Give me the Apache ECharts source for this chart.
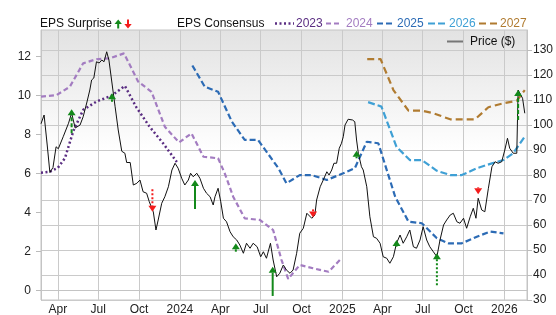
<!DOCTYPE html>
<html>
<head>
<meta charset="utf-8">
<script src="https://cdn.jsdelivr.net/npm/echarts@6/dist/echarts.min.js"></script>
<style>html,body{margin:0;padding:0;background:#fff}#c{width:556px;height:315px}</style>
</head>
<body>
<div id="c"></div>
<script>
// ---------- DATA ----------
var xTickDates = ['2023-04-01','2023-07-01','2023-10-01','2024-01-01','2024-04-01','2024-07-01','2024-10-01','2025-01-01','2025-04-01','2025-07-01','2025-10-01','2026-01-01'];
var xTickLabels = ['Apr','Jul','Oct','2024','Apr','Jul','Oct','2025','Apr','Jul','Oct','2026'];
var epsTicks = [0,2,4,6,8,10,12];
var priceTicks = [30,40,50,60,70,80,90,100,110,120,130];

var priceDates = ['2023-02-22','2023-03-01','2023-03-08','2023-03-14','2023-03-21','2023-03-28','2023-04-02','2023-04-13','2023-04-25','2023-05-02','2023-05-10','2023-05-21','2023-05-28','2023-06-05','2023-06-12','2023-06-16','2023-06-21','2023-06-27','2023-07-03','2023-07-09','2023-07-14','2023-07-20','2023-07-25','2023-07-31','2023-08-08','2023-08-15','2023-08-23','2023-08-30','2023-09-03','2023-09-11','2023-09-18','2023-09-26','2023-10-03','2023-10-10','2023-10-18','2023-10-24','2023-11-02','2023-11-08','2023-11-13','2023-11-21','2023-11-28','2023-12-06','2023-12-14','2023-12-21','2023-12-28','2024-01-05','2024-01-12','2024-01-20','2024-01-25','2024-01-31','2024-02-08','2024-02-15','2024-02-23','2024-03-01','2024-03-09','2024-03-16','2024-03-20','2024-03-27','2024-04-02','2024-04-08','2024-04-15','2024-04-23','2024-04-30','2024-05-08','2024-05-15','2024-05-23','2024-05-30','2024-06-07','2024-06-14','2024-06-23','2024-07-01','2024-07-07','2024-07-14','2024-07-23','2024-07-29','2024-08-06','2024-08-13','2024-08-21','2024-08-28','2024-09-05','2024-09-12','2024-09-20','2024-09-27','2024-10-05','2024-10-13','2024-10-16','2024-10-24','2024-10-31','2024-11-04','2024-11-12','2024-11-19','2024-11-27','2024-12-02','2024-12-08','2024-12-13','2024-12-19','2024-12-25','2024-12-30','2025-01-03','2025-01-07','2025-01-14','2025-01-24','2025-01-29','2025-02-02','2025-02-06','2025-02-13','2025-02-17','2025-02-25','2025-03-04','2025-03-12','2025-03-19','2025-03-27','2025-04-03','2025-04-11','2025-04-18','2025-04-26','2025-05-03','2025-05-11','2025-05-18','2025-05-26','2025-06-02','2025-06-10','2025-06-17','2025-06-25','2025-07-02','2025-07-10','2025-07-17','2025-07-25','2025-08-02','2025-08-09','2025-08-17','2025-08-24','2025-09-01','2025-09-08','2025-09-16','2025-09-23','2025-10-01','2025-10-08','2025-10-16','2025-10-23','2025-10-29','2025-11-03','2025-11-11','2025-11-18','2025-11-26','2025-12-04','2025-12-11','2025-12-18','2025-12-26','2026-01-02','2026-01-08','2026-01-13','2026-01-21','2026-01-29','2026-02-01','2026-02-05','2026-02-11','2026-02-16'];
var priceValues = [100.5,104,92,81,83,91.3,90.5,95.3,100.7,104.8,98.8,100,103.3,108.8,114,118,118.8,125.3,124.8,126,125.3,129.3,126,118,107.3,98,89.5,88.7,85,85,76,76.7,78,73.3,72.7,69.3,65.3,58,62,68.7,71.3,75.3,82,84.7,82.7,78.7,76,78,80.7,79.3,80.7,78.7,74.7,72.7,71.3,68,71.3,74.7,69.3,62.7,61.3,57.3,55.3,54,52,48.7,52.7,50.7,52.7,51.3,47.3,49.3,46.7,52.7,46,39.3,40.7,44,42,40.7,42,48.7,56.7,58.7,64.7,65.3,62.7,64,70,75.3,78,81.3,80,82,84.7,84.7,90.7,92.7,95.3,100,102.3,102,101.3,94,88.7,83.3,82,75.3,63.3,55.3,54.7,52.7,47.3,46.7,44.7,47.3,52.7,56,52.7,55.3,58,51.3,50.7,54,59.3,54,51.3,49.3,47.3,54,60,62,64,64.7,61.3,60.7,62.7,58.7,63.3,66.7,62.7,70.7,66,65.3,74.7,83.3,85.3,84.7,85.3,90,94.7,90.7,88.7,88.7,114,114,110.7,104.7];

var fy2023Dates = ['2023-02-22','2023-03-14','2023-04-01','2023-04-17','2023-05-06','2023-05-28','2023-06-27','2023-07-31','2023-08-30','2023-09-25','2023-10-25','2023-11-24','2023-12-25'];
var fy2023Values = [6.05,6.1,6.3,6.8,8.2,9.27,9.7,10.0,10.5,9.4,8.4,7.56,6.6];

var fy2024Dates = ['2023-02-22','2023-03-29','2023-04-28','2023-05-28','2023-06-27','2023-07-27','2023-08-28','2023-09-29','2023-10-29','2023-11-28','2023-12-30','2024-01-27','2024-02-23','2024-03-27','2024-04-11','2024-04-30','2024-05-26','2024-06-29','2024-07-29','2024-08-17','2024-09-01','2024-09-27','2024-10-27','2024-12-01','2024-12-30'];
var fy2024Values = [9.95,10.03,10.46,11.66,11.87,11.92,12.17,10.72,10.2,8.41,7.6,8.07,6.87,6.79,6.02,4.82,3.71,3.63,3.11,1.57,0.6,1.32,1.15,0.97,1.66];

var fy2025Dates = ['2024-01-29','2024-02-26','2024-03-27','2024-04-27','2024-05-26','2024-06-25','2024-08-10','2024-08-28','2024-09-27','2024-10-24','2024-11-27','2025-01-03','2025-01-29','2025-02-25','2025-03-23','2025-04-30','2025-05-30','2025-06-29','2025-08-02','2025-08-28','2025-09-27','2025-10-31','2025-11-30','2025-12-30'];
var fy2025Values = [11.55,10.46,10.2,8.67,7.73,7.73,6.28,5.51,5.93,5.93,5.68,6.02,6.28,7.64,7.56,4.82,3.54,3.46,2.69,2.43,2.43,2.77,3.03,2.94];

var fy2026Dates = ['2025-02-28','2025-03-30','2025-05-03','2025-06-02','2025-06-29','2025-08-02','2025-09-01','2025-09-27','2025-10-31','2025-12-04','2025-12-30','2026-01-21','2026-02-16'];
var fy2026Values = [9.67,9.44,7.38,6.7,6.7,6.15,5.93,5.93,6.28,6.53,6.7,7.05,7.9];

var fy2027Dates = ['2025-02-26','2025-03-28','2025-04-26','2025-05-30','2025-06-29','2025-07-25','2025-09-01','2025-10-27','2025-11-26','2025-12-30','2026-01-29','2026-02-16'];
var fy2027Values = [11.88,11.88,10.29,9.23,9.23,9.1,8.79,8.79,9.41,9.61,9.74,10.29];

var surpriseDates = ['2023-05-02','2023-08-01','2023-10-31','2024-02-04','2024-05-06','2024-07-28','2024-10-27','2025-02-02','2025-05-03','2025-08-02','2025-11-03','2026-02-01'];
var surpriseFrom = [8.07,9.69,5.2,4.19,2.0,-0.27,4.17,6.79,2.26,0.28,5.3,8.75];
var surpriseTo   = [9.3,10.12,4.05,5.68,2.43,1.23,3.76,7.18,2.6,1.92,4.94,10.29];
var surpriseDash = ['dashed','dashed','dotted','solid','solid','solid','solid','dashed','solid','dotted','solid','dashed'];

// ---------- CHART ----------
var FONT = '"Liberation Sans", Arial, Helvetica, sans-serif';
var GRID = {left: 41, top: 30, width: 486, height: 270};
function toTs(s) { var p = s.split('-'); return Date.UTC(+p[0], +p[1] - 1, +p[2]); }
function zip(a, b) { return a.map(function (d, i) { return [toTs(d), b[i]]; }); }
var tickTs = xTickDates.map(toTs);
var labelMap = {};
tickTs.forEach(function (t, i) { labelMap[t] = xTickLabels[i]; });

var seriesCfg = [
  {name: '2023', d: fy2023Dates, v: fy2023Values, color: '#5a2d82', dash: [2, 2.5], w: 2.5},
  {name: '2024', d: fy2024Dates, v: fy2024Values, color: '#a37cc1', dash: [5, 3], w: 2.2},
  {name: '2025', d: fy2025Dates, v: fy2025Values, color: '#2c6bb5', dash: [6, 3], w: 2.2},
  {name: '2026', d: fy2026Dates, v: fy2026Values, color: '#3fa0d5', dash: [7, 3], w: 2.2},
  {name: '2027', d: fy2027Dates, v: fy2027Values, color: '#b07b30', dash: [7, 4], w: 2.2}
];

var series = seriesCfg.map(function (c) {
  return {
    type: 'line', name: c.name, yAxisIndex: 0, showSymbol: false, symbol: 'none',
    data: zip(c.d, c.v), z: 2, silent: true,
    lineStyle: {color: c.color, width: c.w, type: c.dash}
  };
});
series.push({
  type: 'line', name: 'Price', yAxisIndex: 1, showSymbol: false, symbol: 'none',
  data: zip(priceDates, priceValues), z: 3, silent: true,
  lineStyle: {color: '#111', width: 1}
});
series.push({
  type: 'custom', name: 'Surprise', yAxisIndex: 0, z: 5, silent: true,
  encode: {x: 0, y: [1, 2]},
  data: surpriseDates.map(function (d, i) { return [toTs(d), surpriseFrom[i], surpriseTo[i], i]; }),
  renderItem: function (params, api) {
    var x = api.value(0), a = api.value(1), b = api.value(2), idx = api.value(3);
    var p1 = api.coord([x, a]), p2 = api.coord([x, b]);
    var up = b > a;
    var color = up ? '#13891a' : '#f41c1c';
    var hh = 6, hw = 4;
    var baseY = up ? p2[1] + hh : p2[1] - hh;
    var ds = surpriseDash[idx];
    var dash = ds === 'dashed' ? [4, 2] : (ds === 'dotted' ? [2, 2] : null);
    var children = [];
    if ((up && p1[1] > baseY) || (!up && p1[1] < baseY)) {
      children.push({type: 'line', shape: {x1: p2[0], y1: p1[1], x2: p2[0], y2: baseY},
        style: {stroke: color, lineWidth: 2, lineDash: dash}});
    }
    children.push({type: 'polygon', shape: {points: [[p2[0], p2[1]], [p2[0] - hw, baseY], [p2[0] + hw, baseY]]},
      style: {fill: color}});
    return {type: 'group', children: children};
  }
});

// legend graphics
var graphics = [];
function txt(x, y, s, color) {
  graphics.push({type: 'text', x: x, y: y, silent: true,
    style: {text: s, fill: color, font: '12px ' + FONT, verticalAlign: 'middle', align: 'left'}});
}
function seg(x1, x2, y, color, dash, w) {
  graphics.push({type: 'line', silent: true, shape: {x1: x1, y1: y, x2: x2, y2: y},
    style: {stroke: color, lineWidth: w, lineDash: dash}});
}
txt(40, 24, 'EPS Surprise', '#111');
graphics.push({type: 'polygon', silent: true, shape: {points: [[118.2, 19.5], [114.5, 24], [121.9, 24]]}, style: {fill: '#13891a'}});
graphics.push({type: 'line', silent: true, shape: {x1: 118.2, y1: 23.5, x2: 118.2, y2: 28.5}, style: {stroke: '#13891a', lineWidth: 2}});
graphics.push({type: 'polygon', silent: true, shape: {points: [[128, 28.5], [124.3, 24], [131.7, 24]]}, style: {fill: '#f41c1c'}});
graphics.push({type: 'line', silent: true, shape: {x1: 128, y1: 19.5, x2: 128, y2: 24.5}, style: {stroke: '#f41c1c', lineWidth: 2}});
txt(177, 24, 'EPS Consensus', '#111');
var legX = [[275, 294, 296], [326, 342, 346], [377, 395, 397], [428, 447, 449], [479, 497, 500]];
seriesCfg.forEach(function (c, i) {
  seg(legX[i][0], legX[i][1], 23.5, c.color, c.dash, c.w);
  txt(legX[i][2], 24, c.name, c.color);
});
seg(447, 464, 41.5, '#777', null, 2);
txt(470, 41.5, 'Price ($)', '#111');

var chart = echarts.init(document.getElementById('c'), null, {renderer: 'canvas'});
chart.setOption({
  animation: false,
  backgroundColor: '#fff',
  grid: {
    left: GRID.left, top: GRID.top, width: GRID.width, height: GRID.height,
    show: true, borderColor: '#c4c4c4', borderWidth: 1,
    outerBoundsMode: 'none', containLabel: false,
    backgroundColor: {type: 'linear', x: 0, y: 0, x2: 0, y2: 1,
      colorStops: [{offset: 0, color: '#e2e2e2'}, {offset: 0.45, color: '#ffffff'}, {offset: 1, color: '#ffffff'}]}
  },
  xAxis: {
    type: 'value', min: toTs('2023-02-22'), max: toTs('2026-02-21'),
    axisLine: {show: true, lineStyle: {color: '#c4c4c4'}},
    axisTick: {show: true, length: 3, customValues: tickTs, lineStyle: {color: '#c4c4c4'}},
    axisLabel: {customValues: tickTs, color: '#222', fontSize: 12, fontFamily: FONT, margin: 4,
      hideOverlap: false, showMinLabel: true, showMaxLabel: true,
      formatter: function (v) { return labelMap[v] !== undefined ? labelMap[v] : ''; }},
    splitLine: {show: true, lineStyle: {color: '#cacaca', width: 1}}
  },
  yAxis: [
    {
      type: 'value', position: 'left', min: -0.477, max: 13.369,
      axisLine: {show: true, lineStyle: {color: '#c4c4c4'}},
      axisTick: {show: true, length: 5, customValues: epsTicks, lineStyle: {color: '#bbbbbb'}},
      axisLabel: {customValues: epsTicks, color: '#222', fontSize: 12, fontFamily: FONT, margin: 10},
      splitLine: {show: false}
    },
    {
      type: 'value', position: 'right', min: 30, max: 138,
      axisLine: {show: true, lineStyle: {color: '#c4c4c4'}},
      axisTick: {show: true, length: 5, customValues: priceTicks, lineStyle: {color: '#bbbbbb'}},
      axisLabel: {customValues: priceTicks, color: '#222', fontSize: 12, fontFamily: FONT, margin: 6},
      splitLine: {show: true, lineStyle: {color: '#cacaca', width: 1}}
    }
  ],
  series: series,
  graphic: graphics
});
</script>
</body>
</html>
